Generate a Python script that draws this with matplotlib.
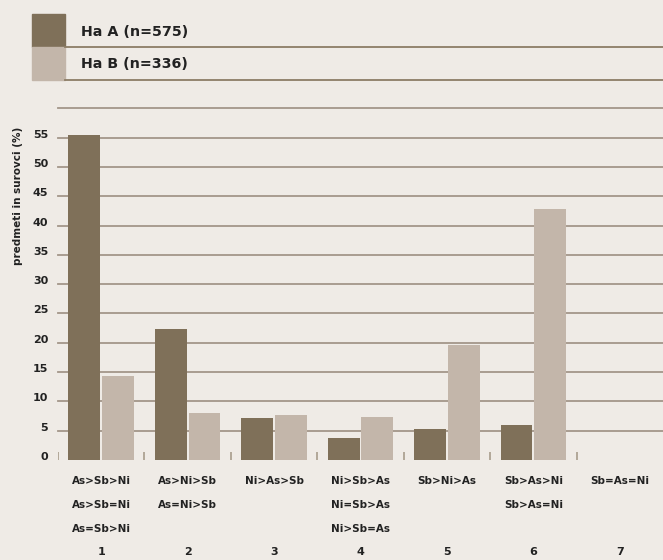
import matplotlib
matplotlib.use("Agg")
import matplotlib.pyplot as plt
import matplotlib.transforms as mtransforms
from matplotlib.patches import Rectangle
from matplotlib.lines import Line2D
import numpy as np

# ─── Data ────────────────────────────────────────────────────────────────
groups = ["1", "2", "3", "4", "5", "6", "7"]
orders = [
    ["As>Sb>Ni", "As>Sb=Ni", "As=Sb>Ni"],
    ["As>Ni>Sb", "As=Ni>Sb"],
    ["Ni>As>Sb"],
    ["Ni>Sb>As", "Ni=Sb>As", "Ni>Sb=As"],
    ["Sb>Ni>As"],
    ["Sb>As>Ni", "Sb>As=Ni"],
    ["Sb=As=Ni"],
]
series_names = ["Ha A (n=575)", "Ha B (n=336)"]
ha_a = [55.5, 22.3, 7.2, 3.7, 5.3, 6.0, 0.0]
ha_b = [14.3, 8.0, 7.7, 7.3, 19.6, 42.8, 0.0]
y_ticks = [0, 5, 10, 15, 20, 25, 30, 35, 40, 45, 50, 55]
y_label = "predmeti in surovci (%)"

# ─── Style ───────────────────────────────────────────────────────────────
BG = "#efebe6"
COL_A = "#7f7059"
COL_B = "#c3b6aa"
GRID = "#a3968a"
RULE = "#8c7d66"
TXT = "#222222"
plt.rcParams["font.family"] = ["DejaVu Sans"]

W, H = 663, 560
fig = plt.figure(figsize=(W / 100, H / 100), dpi=100, facecolor=BG)
ax = fig.add_axes([58 / W, 1 - 460 / H, 1 - 58 / W, (460 - 108.3) / H])
ax.set_facecolor(BG)

x = np.arange(1, len(groups) + 1)
bw = 0.37
off = 0.195
ax.bar(x - off, ha_a, width=bw, color=COL_A, zorder=3)
ax.bar(x + off, ha_b, width=bw, color=COL_B, zorder=3)

# gridlines 5..60, no line at zero
for v in range(5, 61, 5):
    ax.axhline(v, color=GRID, linewidth=1.3, zorder=1, clip_on=False)

# small separators at the baseline, between groups
ax.vlines(np.arange(0.5, len(groups)), 0, 1.4,
          color="#a89c8b", linewidth=1.2, zorder=2)

ax.set_xlim(0.5, len(groups) + 0.5)
ax.set_ylim(0, 60)
for s in ax.spines.values():
    s.set_visible(False)
ax.set_xticks([])
ax.set_yticks(y_ticks)
ax.set_yticklabels([str(t) for t in y_ticks], fontsize=8, fontweight="bold", color=TXT)
ax.tick_params(axis="y", length=0, pad=7)
shift = mtransforms.ScaledTranslation(0, 4 / 100, fig.dpi_scale_trans)
for lbl in ax.get_yticklabels():
    lbl.set_transform(lbl.get_transform() + shift)

fig.text(18 / W, 1 - 196 / H, y_label, rotation=90, ha="center", va="center",
         fontsize=7.5, fontweight="bold", color=TXT)

# category labels under the axis
bt = mtransforms.blended_transform_factory(ax.transData, fig.transFigure)
row_y = [481, 505, 529]
for xi, lines, g in zip(x, orders, groups):
    for k, s in enumerate(lines):
        ax.text(xi, 1 - row_y[k] / H, s, transform=bt, ha="center", va="center",
                fontsize=7.5, fontweight="bold", color=TXT)
    ax.text(xi, 1 - 552 / H, g, transform=bt, ha="center", va="center",
            fontsize=8, fontweight="bold", color=TXT)

# legend at the top
for i, (name, col) in enumerate(zip(series_names, [COL_A, COL_B])):
    y0 = 14 + i * 33
    fig.patches.append(Rectangle((32 / W, 1 - (y0 + 33) / H), 33 / W, 33 / H,
                                 transform=fig.transFigure, color=col))
    fig.text(81 / W, 1 - (y0 + 17.5) / H, name, ha="left", va="center",
             fontsize=10.3, fontweight="bold", color=TXT)
    fig.add_artist(Line2D([65 / W, 1], [1 - (y0 + 33) / H] * 2, color=RULE,
                          linewidth=1.3, transform=fig.transFigure))

fig.savefig("out.png", dpi=100, facecolor=BG)
